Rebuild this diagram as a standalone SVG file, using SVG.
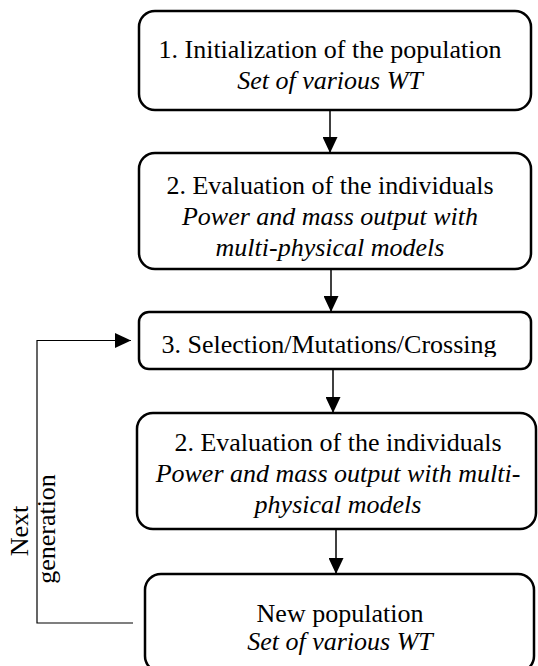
<svg xmlns="http://www.w3.org/2000/svg" width="538" height="666" viewBox="0 0 538 666">
<style>
.box{fill:#fff;stroke:#000;stroke-width:2.5}
.t{font-family:"Liberation Serif","Times New Roman",serif;font-size:26px;fill:#000;text-anchor:middle}
.i{font-style:italic}
.c{fill:none;stroke:#000;stroke-width:1.5}
.loop{fill:none;stroke:#000;stroke-width:1.2}
</style>
<defs>
<marker id="ah" markerWidth="16" markerHeight="15" refX="16" refY="7.5" orient="auto" markerUnits="userSpaceOnUse">
<path d="M0,0 L16,7.5 L0,15 Z" fill="#000"/>
</marker>
<clipPath id="clip3"><rect x="139" y="312" width="392" height="45"/></clipPath>
</defs>
<rect width="538" height="666" fill="#fff"/>
<g id="connectors">
<line class="c" x1="330" y1="110" x2="330" y2="153" marker-end="url(#ah)"/>
<line class="c" x1="331" y1="269" x2="331" y2="312" marker-end="url(#ah)"/>
<line class="c" x1="333" y1="369" x2="333" y2="413" marker-end="url(#ah)"/>
<line class="c" x1="336" y1="529" x2="336" y2="574" marker-end="url(#ah)"/>
<polyline class="loop" points="133,623 37,623 37,340.5 131,340.5" marker-end="url(#ah)"/>
<text class="t" transform="translate(28,531) rotate(-90)">Next</text>
<text class="t" transform="translate(55,529) rotate(-90)">generation</text>
</g>
<g id="node1">
<rect class="box" x="139" y="11" width="392" height="99" rx="16"/>
<text class="t" x="330" y="58">1. Initialization of the population</text>
<text class="t i" x="330" y="89">Set of various WT</text>
</g>
<g id="node2">
<rect class="box" x="139" y="153" width="392" height="116" rx="16"/>
<text class="t" x="330" y="194">2. Evaluation of the individuals</text>
<text class="t i" x="330" y="225">Power and mass output with</text>
<text class="t i" x="330" y="256">multi-physical models</text>
</g>
<g id="node3">
<rect class="box" x="139" y="312" width="392" height="57" rx="10"/>
<text class="t" x="329" y="353" clip-path="url(#clip3)">3. Selection/Mutations/Crossing</text>
</g>
<g id="node4">
<rect class="box" x="137" y="413" width="399" height="116" rx="16"/>
<text class="t" x="338" y="451">2. Evaluation of the individuals</text>
<text class="t i" x="338" y="482">Power and mass output with multi-</text>
<text class="t i" x="338" y="513">physical models</text>
</g>
<g id="node5">
<rect class="box" x="145" y="574" width="389" height="98" rx="16"/>
<text class="t" x="340" y="622">New population</text>
<text class="t i" x="340" y="650">Set of various WT</text>
</g>
</svg>
